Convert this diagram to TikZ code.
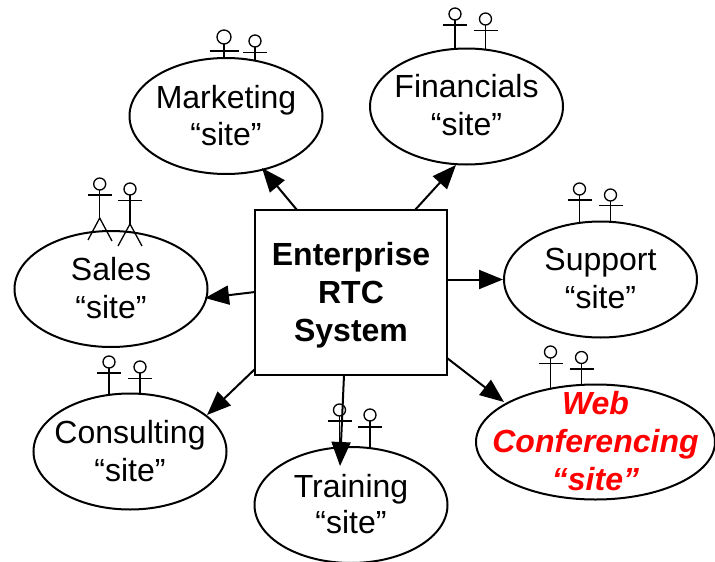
\documentclass[tikz,border=0pt]{standalone}
\usepackage{fontspec}
\setmainfont{Liberation Sans}
\usetikzlibrary{shapes.geometric,arrows.meta}
\newcommand{\stickman}[6]{% head x, head y, r, arm y, body end y, half arm
  \draw[actorline] (#1,#2) circle[radius=#3];
  \draw[actorline] (#1-#6,#4) -- (#1+#6,#4);
  \draw[actorline] (#1,#2+#3) -- (#1,#5);
}
\newcommand{\deeper}[1]{\rule[-#1pt]{0pt}{1pt}}
\tikzset{
  x=1pt,y=-1pt,
  actorline/.style={line width=1.3pt,black},
  site/.style={draw=black,line width=2pt,shape=ellipse,inner sep=-20pt,minimum width=193pt,minimum height=116pt,align=center,font=\fontsize{32}{38}\selectfont},
  hub/.style={draw=black,line width=2.4pt,rectangle,inner sep=0pt,minimum width=192pt,minimum height=165pt,align=center,font=\fontsize{32}{38}\selectfont\bfseries},
  link/.style={draw=black,line width=2pt,-{Triangle[length=24pt,width=19pt]}},
}
\begin{document}
\begin{tikzpicture}
\useasboundingbox (0,0) rectangle (715,562);
% actors
\stickman{224}{37}{7}{51}{58}{14.5}
\stickman{255}{41}{6}{52.5}{60}{12}
\stickman{455}{14}{6}{25}{49}{12}
\stickman{485.5}{19}{6}{30.5}{50}{12}
\stickman{99.7}{184}{6}{195}{218}{12}
\stickman{130}{189}{6}{200.5}{224}{12}
\draw[actorline] (88,240) -- (99.7,218) -- (112,241);
\draw[actorline] (118,246) -- (130,224) -- (142,246);
\stickman{579.5}{189}{6}{200}{222}{12}
\stickman{610.5}{195}{6}{205.5}{222}{12}
\stickman{550.5}{352}{6}{363.5}{388}{12}
\stickman{581.5}{357.5}{6}{369}{385}{12}
\stickman{109}{362}{6}{373}{395}{12}
\stickman{140}{367}{6}{378.5}{394}{12}
\stickman{339.5}{410}{6}{421}{450}{12}
\stickman{370}{415}{6}{427}{448}{12}
% nodes
\node[hub] (hubbox) at (351,292.5) {\rule{0pt}{28pt}Enterprise\\RTC\\System};
\node[site] (marketing) at (226,116) {Marketing\\[-1pt]“site”\deeper{2}};
\node[site] (financials) at (466.5,106.5) {Financials\\“site”\deeper{3}};
\node[site] (sales) at (111,289) {Sales\\“site”\deeper{2}};
\node[site] (support) at (600.5,279.5) {Support\\“site”\deeper{2}};
\node[site,minimum width=239pt,minimum height=115pt,font=\fontsize{32}{38}\selectfont\bfseries\itshape,text=red] (web) at (595.5,442) {Web\\Conferencing\\“site”\deeper{3}};
\node[site] (consulting) at (130,451.5) {Consulting\\“site”};
\node[site] (training) at (351,505) {Training\\[-2pt]“site”\deeper{2}};
% connector ends
\coordinate (e-train) at (340,466);
\coordinate (e-web) at (504,402);
\coordinate (e-fin) at (456,165);
\coordinate (e-mark) at (262,168);
\coordinate (e-cons) at (207,415);
\coordinate (e-sales) at (205,298);
\coordinate (s-web) at (447,358);
\coordinate (s-train) at (344,375);
\coordinate (s-cons) at (255,369);
\coordinate (s-mark) at (297,210);
\coordinate (s-fin) at (415,210);
\coordinate (s-sales) at (255,292);
% connectors
\draw[link] (s-mark) -- (e-mark);
\draw[link] (s-fin) -- (e-fin);
\draw[link] (hubbox.east |- support.west) -- (support.west);
\draw[link] (s-web) -- (e-web);
\draw[link] (s-train) -- (e-train);
\draw[link] (s-cons) -- (e-cons);
\draw[link] (s-sales) -- (e-sales);
\end{tikzpicture}
\end{document}
